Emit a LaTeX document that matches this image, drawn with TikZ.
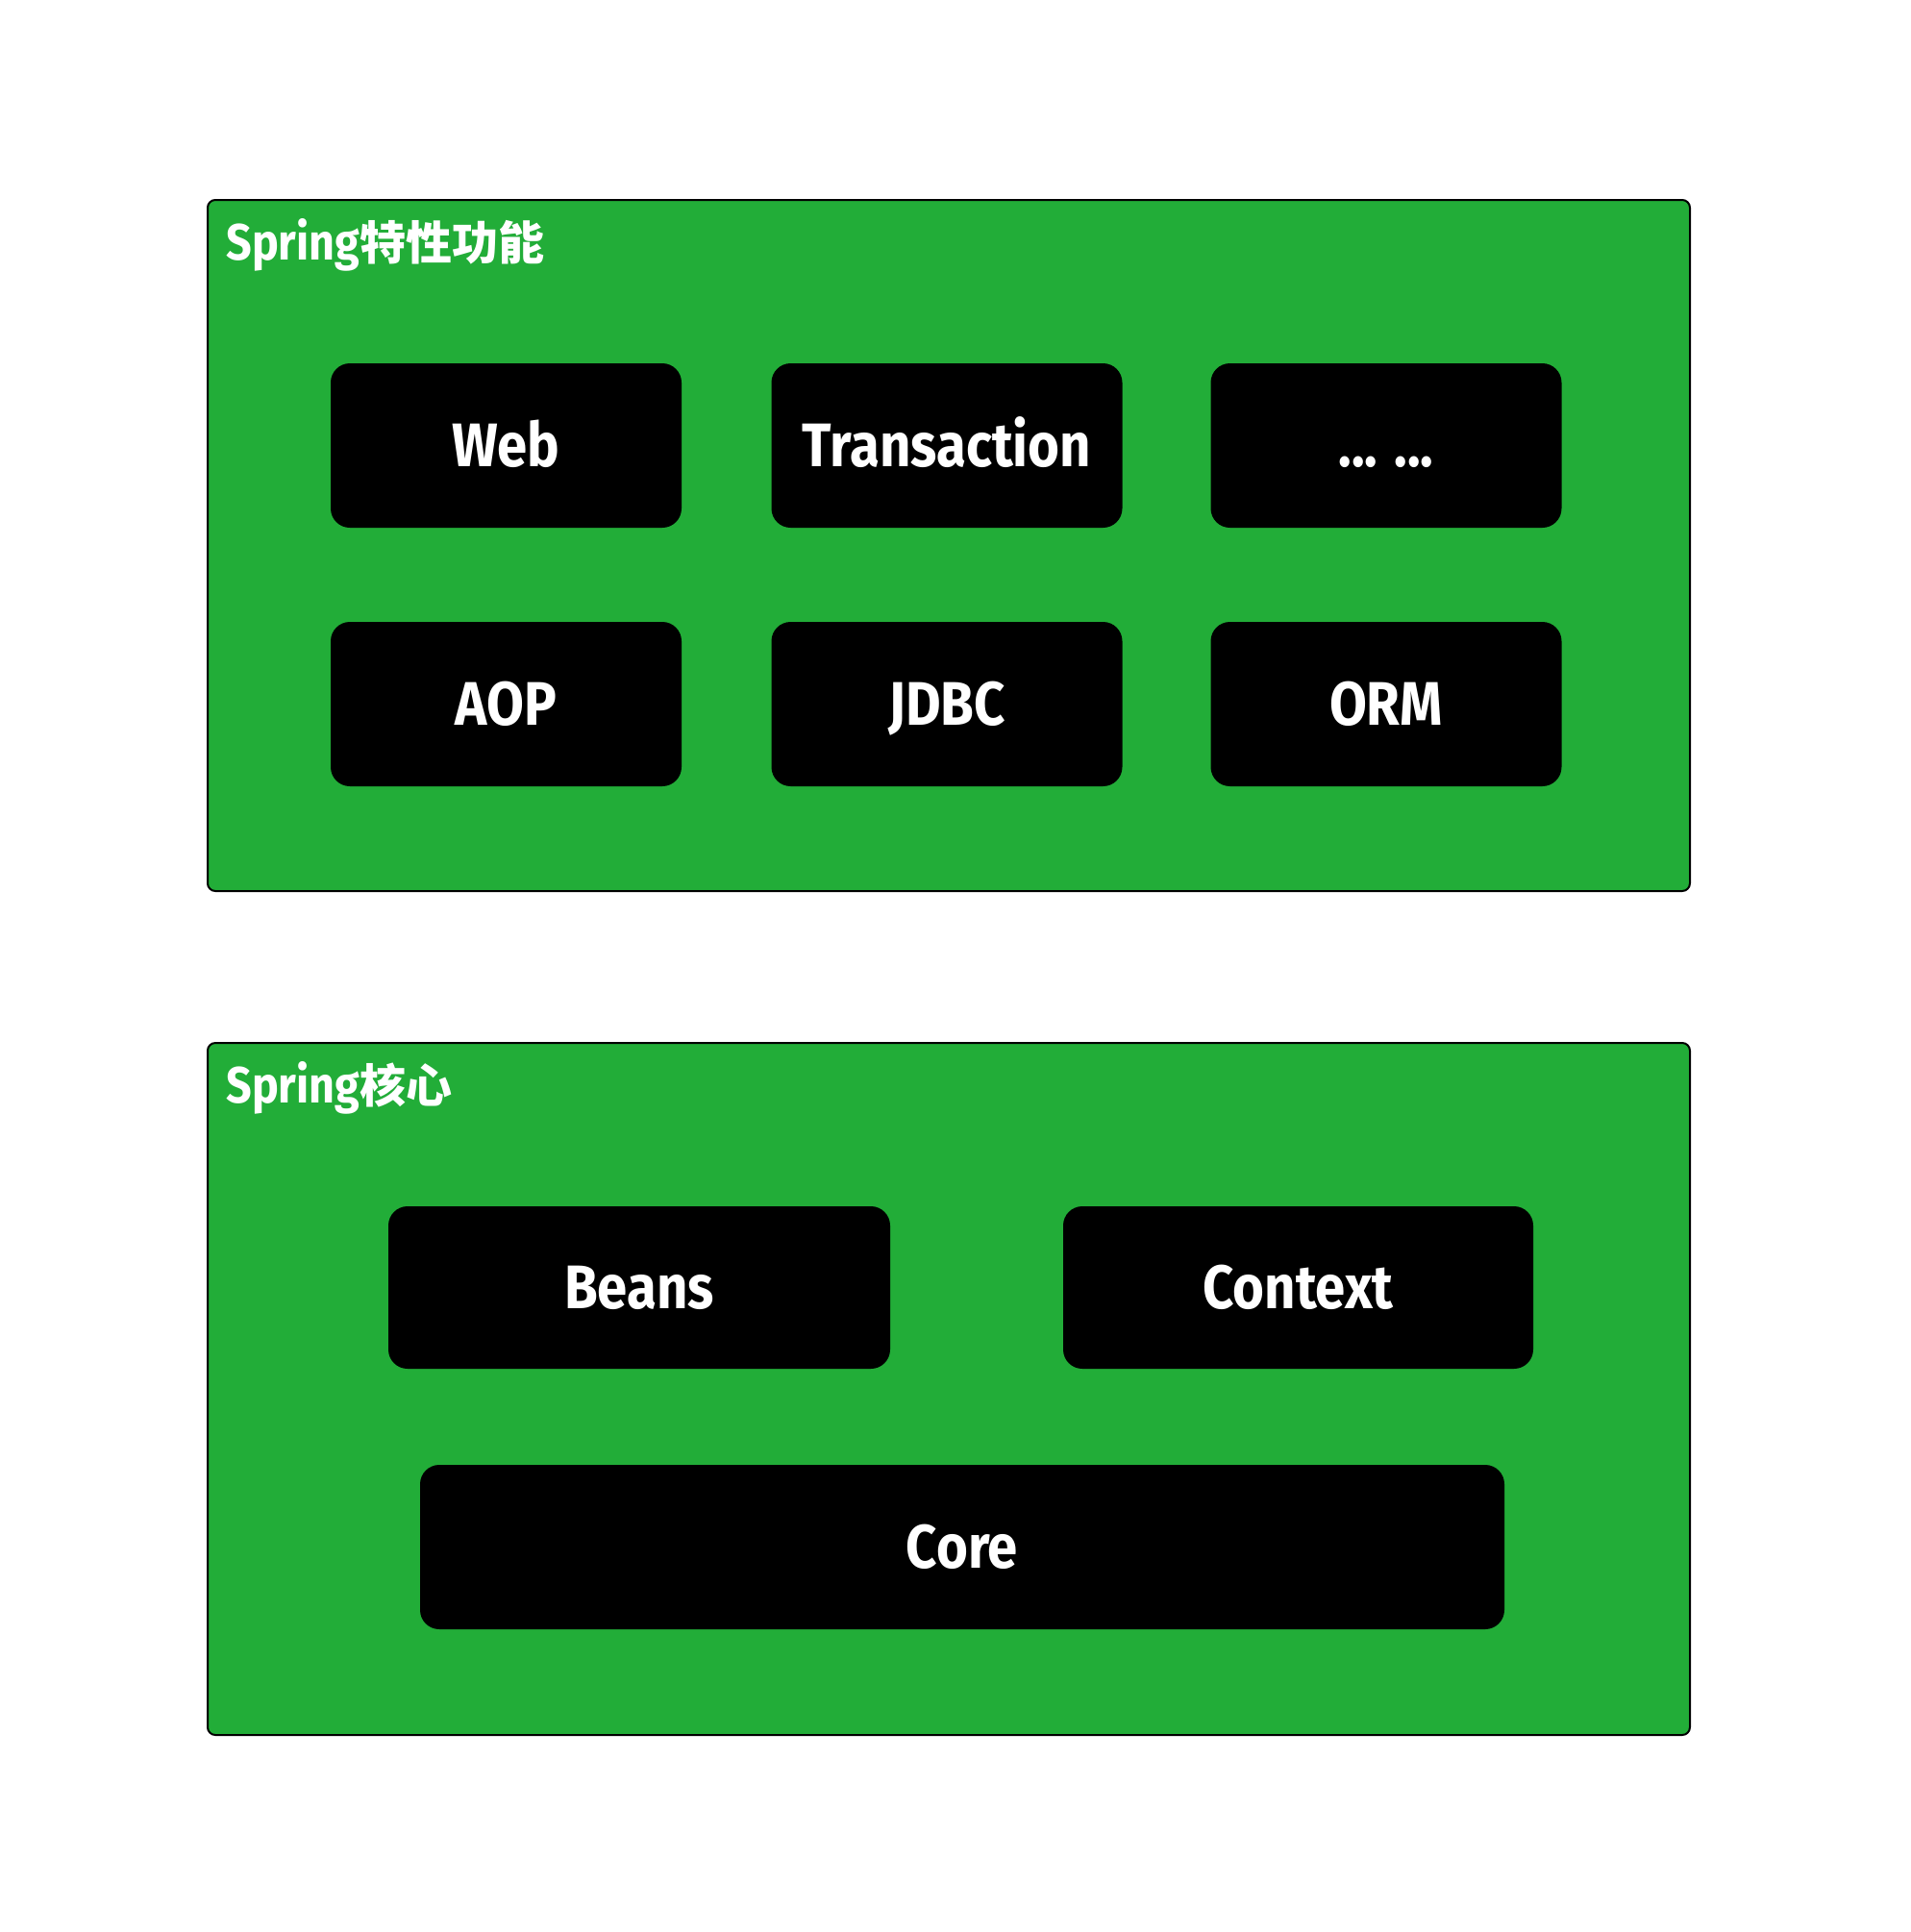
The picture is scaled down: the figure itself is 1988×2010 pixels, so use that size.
\documentclass[tikz,border=0pt]{standalone}
\usepackage{fontspec}
\setmainfont{Fira Sans}
\newfontfamily\labfont[FakeStretch=0.88]{Fira Sans}
\newfontfamily\cjkfont{Noto Sans CJK SC}
\definecolor{springgreen}{RGB}{34,173,56}
\begin{document}
\begin{tikzpicture}[x=0.5pt,y=-0.5pt,
  frame/.style={draw=black, line width=1pt, fill=springgreen, rounded corners=4pt, inner sep=0pt},
  grouptitle/.style={text=white, inner sep=0pt, anchor=base west, font=\labfont\bfseries\fontsize{26.5}{30}\selectfont},
  module/.style={fill=black, rounded corners=10pt, text=white, inner sep=0pt,
    text height=22pt, text depth=0pt, font=\labfont\bfseries\fontsize{32}{40}\selectfont},
  smallmod/.style={module, minimum width=182.5pt, minimum height=85.5pt}]
\useasboundingbox (0,0) rectangle (1988,2010);
\fill[white] (0,0) rectangle (1988,2010);

% feature group
\node[frame, minimum width=771pt, minimum height=359.5pt] (feat) at (987,567.5) {};
\node[grouptitle] (feattitle) at (235,270) {Spring{\cjkfont\bfseries\fontsize{24}{30}\selectfont 特性功能}};
\node[smallmod] (web)   at (526.5,463.5) {Web};
\node[smallmod] (trans) at (985,463.5)   {Transaction};
\node[smallmod] (more)  at (1442,463.5)  {... ...};
\node[smallmod] (aop)   at (526.5,732.5) {AOP};
\node[smallmod] (jdbc)  at (985,732.5)   {JDBC};
\node[smallmod] (orm)   at (1442,732.5)  {ORM};

% core group
\node[frame, minimum width=771pt, minimum height=360pt] (coregrp) at (987,1445) {};
\node[grouptitle] (coretitle) at (235,1147) {Spring{\cjkfont\bfseries\fontsize{24}{30}\selectfont 核心}};
\node[module, minimum width=261pt, minimum height=84.5pt] (beans) at (665,1339.5) {Beans};
\node[module, minimum width=244.5pt, minimum height=84.5pt] (context) at (1350.5,1339.5) {Context};
\node[module, minimum width=564pt, minimum height=85.5pt] (core) at (1001,1609.5) {Core};
\end{tikzpicture}
\end{document}
